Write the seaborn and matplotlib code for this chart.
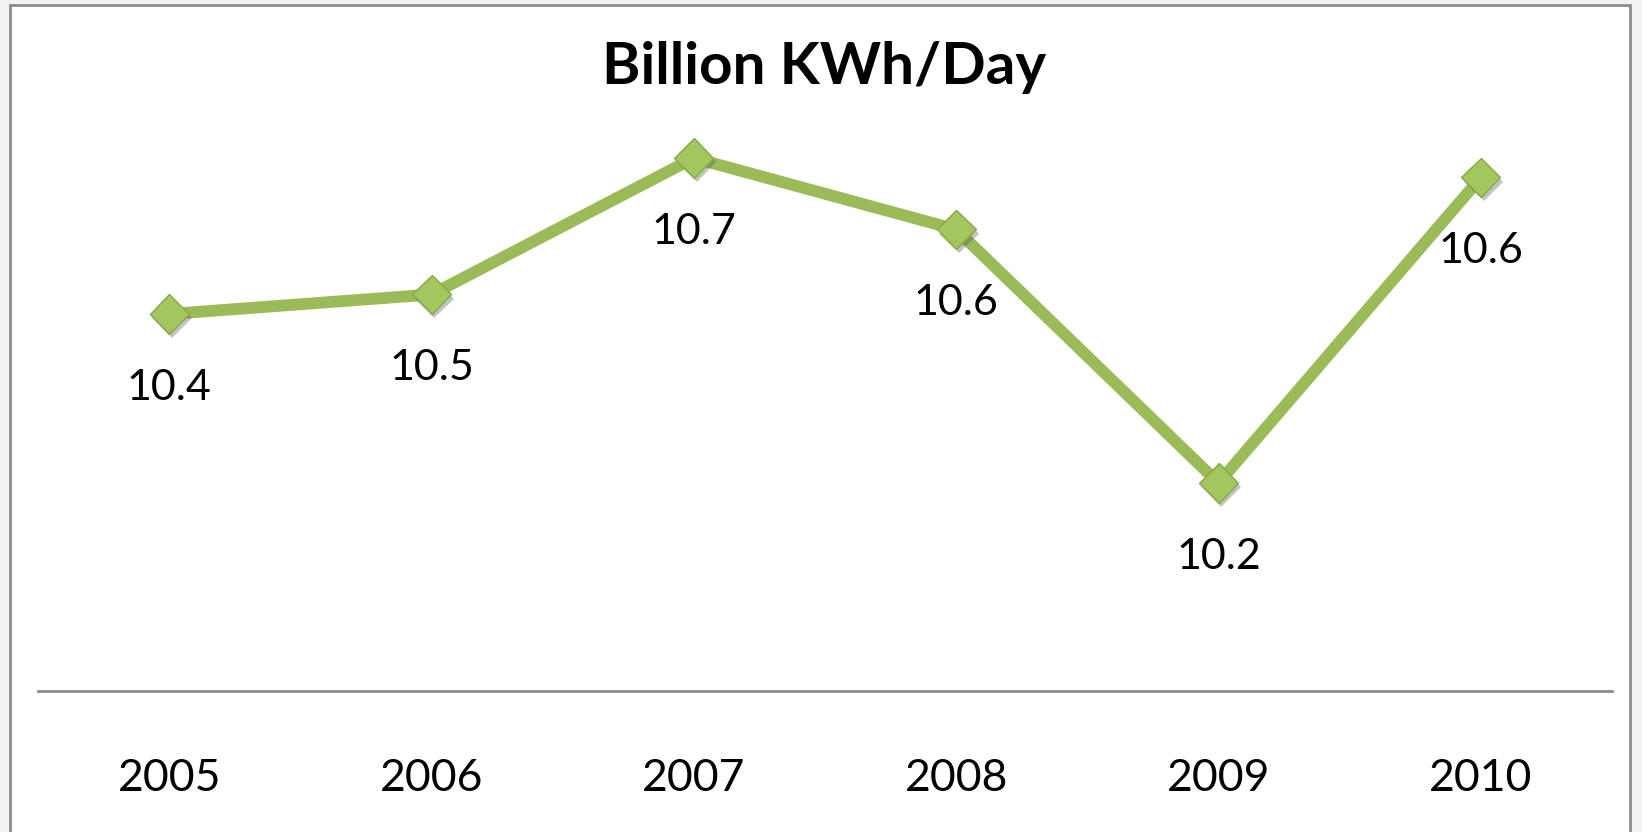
import matplotlib
matplotlib.use("Agg")
import matplotlib.pyplot as plt
import matplotlib.patheffects as pe
from matplotlib.patches import Rectangle
import seaborn as sns
import pandas as pd

# data (labels shown rounded to one decimal)
years = ['2005', '2006', '2007', '2008', '2009', '2010']
kwh = [10.43, 10.46, 10.67, 10.56, 10.17, 10.64]
title = 'Billion KWh/Day'

GREEN = '#9bbb59'
GREY = '#8c8c8c'

sns.set_theme(style='white')
plt.rcParams['font.family'] = ['Lato', 'DejaVu Sans']

df = pd.DataFrame({'year': years, 'kwh': kwh})

fig = plt.figure(figsize=(16.42, 8.32), dpi=100, facecolor='#f2f2f2')
# chart frame
fig.patches.append(Rectangle((9.5 / 1642, -0.05), (1630 - 9.5) / 1642, 1.05 - 5 / 832,
                             transform=fig.transFigure, facecolor='white',
                             edgecolor=GREY, linewidth=2, zorder=-1))

ax = fig.add_axes([38 / 1642, 141 / 832, (1612 - 38) / 1642, (691 - 73.5) / 832])
ax.set_zorder(2)
ax.set_facecolor('none')

sns.lineplot(data=df, x='year', y='kwh', ax=ax, color=GREEN, linewidth=8.5,
             sort=False, zorder=2)
ax.plot(df['year'], df['kwh'], linestyle='none', marker='D', markersize=20,
        markerfacecolor='#a3c65e', markeredgecolor='#86a845', markeredgewidth=1,
        zorder=3,
        path_effects=[pe.SimplePatchShadow(offset=(2, -3), alpha=0.35, shadow_rgbFace='#555555'),
                      pe.Normal()])

for yr, v in zip(df['year'], df['kwh']):
    ax.annotate(f'{v:.1f}', (yr, v), xytext=(0, -53), textcoords='offset points',
                ha='center', va='center', fontsize=31, color='black')

ax.set_xlim(-0.5, 5.5)
ax.set_ylim(9.85, 10.8)
ax.set_yticks([])
ax.set_xlabel('')
ax.set_ylabel('')
for side in ['top', 'right', 'left']:
    ax.spines[side].set_visible(False)
ax.spines['bottom'].set_color(GREY)
ax.spines['bottom'].set_linewidth(2)
ax.tick_params(axis='x', length=0, pad=48, labelsize=32, labelcolor='black')

fig.text(0.502, 1 - 67 / 832, title, ha='center', va='center',
         fontsize=42, fontweight='bold', color='black')

fig.savefig('out.png', dpi=100, facecolor=fig.get_facecolor())
